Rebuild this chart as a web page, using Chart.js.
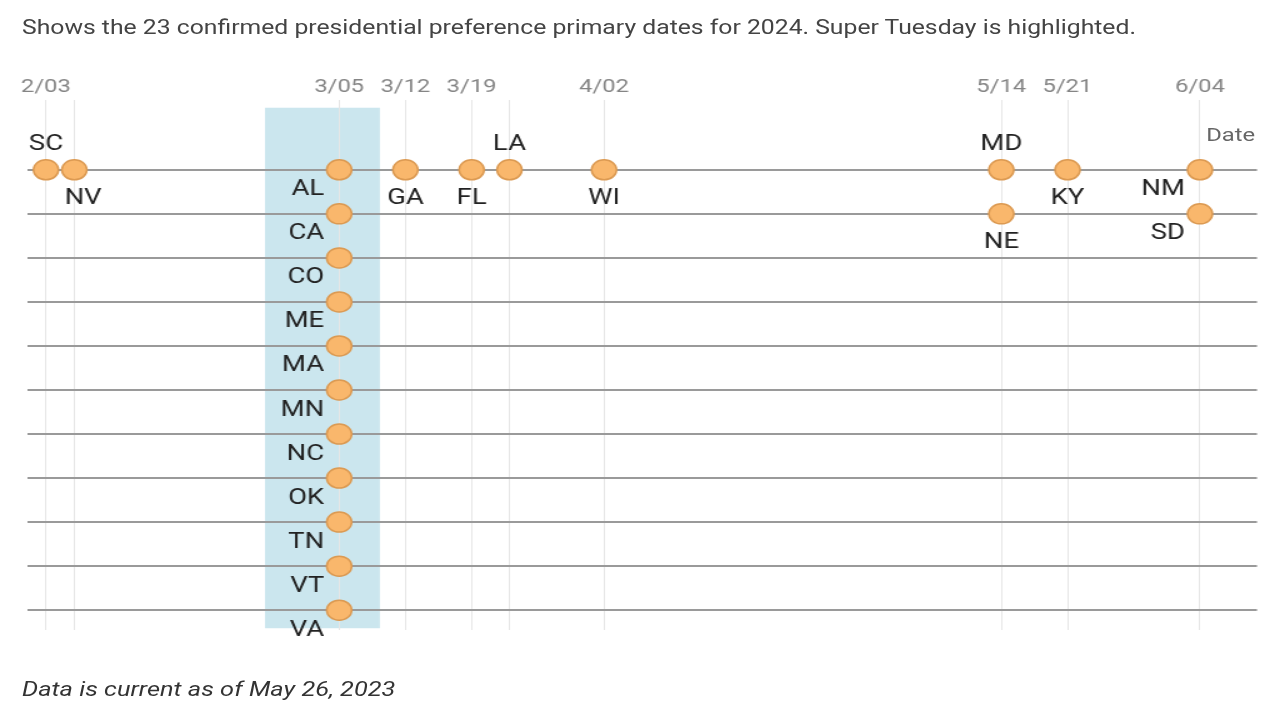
<!DOCTYPE html>
<html>
<head>
<meta charset="utf-8">
<script src="https://cdn.jsdelivr.net/npm/chart.js@4.4.0/dist/chart.umd.min.js"></script>
<style>
  html, body { margin: 0; padding: 0; background: #fff; overflow: hidden; }
  /* the reference is stretched sideways, so the whole page is drawn narrow and widened */
  #wrap { position: relative; width: 1023px; height: 720px; transform: scaleX(1.25); transform-origin: 0 0;
    font-family: Roboto, "Noto Sans", sans-serif; }
  #subtitle { position: absolute; left: 17.6px; top: 16px; font-size: 19.8px; color: #444; white-space: nowrap; }
  #note { position: absolute; left: 17.6px; top: 677px; font-size: 20.3px; font-style: italic; color: #333; white-space: nowrap; }
  #dateLabel { position: absolute; left: 965px; top: 123px; font-size: 19px; color: #666; }
  canvas { position: absolute; left: 0; top: 0; }
</style>
</head>
<body>
<div id="wrap">
  <canvas id="primaries" width="1023" height="720"></canvas>
  <div id="subtitle">Shows the 23 confirmed presidential preference primary dates for 2024. Super Tuesday is highlighted.</div>
  <div id="dateLabel">Date</div>
  <div id="note">Data is current as of May 26, 2023</div>
</div>
<script>
const states = ["SC", "NV", "AL", "CA", "CO", "ME", "MA", "MN", "NC", "OK", "TN", "VT", "VA",
  "GA", "FL", "LA", "WI", "MD", "NE", "KY", "NM", "SD"];
const primaryDates = ["2024-02-03", "2024-02-06",
  "2024-03-05", "2024-03-05", "2024-03-05", "2024-03-05", "2024-03-05", "2024-03-05",
  "2024-03-05", "2024-03-05", "2024-03-05", "2024-03-05", "2024-03-05",
  "2024-03-12", "2024-03-19", "2024-03-23", "2024-04-02",
  "2024-05-14", "2024-05-14", "2024-05-21", "2024-06-04", "2024-06-04"];
const rows = [0, 0, 0, 1, 2, 3, 4, 5, 6, 7, 8, 9, 10, 0, 0, 0, 0, 0, 1, 0, 0, 1];
const labelSide = ["above", "below", "left", "left", "left", "left", "left", "left", "left",
  "left", "left", "left", "left", "below", "below", "above", "below", "above", "below",
  "below", "left", "left"];
const tickLabels = ["2/03", "3/05", "3/12", "3/19", "4/02", "5/14", "5/21", "6/04"];
const superTuesday = "2024-03-05";

const startDay = Date.UTC(2024, 1, 3);
const dayOf = (iso) => {
  const p = iso.split("-").map(Number);
  return Math.round((Date.UTC(p[0], p[1] - 1, p[2]) - startDay) / 86400000);
};
const labelOf = (iso) => {
  const p = iso.split("-");
  return Number(p[1]) + "/" + p[2];
};

const points = states.map((s, i) => ({ x: dayOf(primaryDates[i]), y: rows[i] }));
const uniqueDays = [...new Set(primaryDates)].map(dayOf);
const rowValues = [...new Set(rows)];
const dayLabels = {};
primaryDates.forEach((d) => { dayLabels[dayOf(d)] = labelOf(d); });

// Super Tuesday band, drawn behind the grid
const bandPlugin = {
  id: "band",
  beforeDraw(chart) {
    const { ctx, scales } = chart;
    const d = dayOf(superTuesday);
    const x1 = scales.x.getPixelForValue(d - 7.85);
    const x2 = scales.x.getPixelForValue(d + 4.3);
    const y1 = scales.y.getPixelForValue(-1.41);
    const y2 = scales.y.getPixelForValue(10.41);
    ctx.save();
    ctx.fillStyle = "#cbe6ee";
    ctx.fillRect(x1, y1, x2 - x1, y2 - y1);
    ctx.restore();
  },
};

const labelPlugin = {
  id: "stateLabels",
  afterDatasetsDraw(chart) {
    const { ctx } = chart;
    const meta = chart.getDatasetMeta(0);
    ctx.save();
    ctx.font = "22px Roboto";
    ctx.fillStyle = "#222";
    ctx.textBaseline = "middle";
    meta.data.forEach((pt, i) => {
      const side = labelSide[i];
      if (side === "above") {
        ctx.textAlign = "center";
        ctx.fillText(states[i], pt.x, pt.y - 25);
      } else if (side === "below") {
        ctx.textAlign = "center";
        ctx.fillText(states[i], pt.x + (states[i] === "NV" ? 7 : 0), pt.y + 29);
      } else {
        ctx.textAlign = "right";
        ctx.fillText(states[i], pt.x - 12, pt.y + 20);
      }
    });
    ctx.restore();
  },
};

new Chart(document.getElementById("primaries"), {
  type: "scatter",
  data: {
    datasets: [
      {
        label: "Primaries",
        data: points,
        pointRadius: 10,
        pointHoverRadius: 10,
        pointBackgroundColor: "#f9b76c",
        pointBorderColor: "#dc9a52",
        pointBorderWidth: 1.5,
      },
    ],
  },
  options: {
    responsive: false,
    animation: false,
    layout: { padding: { left: 22.4, right: 17.4, top: 75, bottom: 90 } },
    plugins: { legend: { display: false }, tooltip: { enabled: false } },
    scales: {
      x: {
        type: "linear",
        position: "top",
        min: -1.9,
        max: 128.03,
        afterBuildTicks: (axis) => {
          axis.ticks = uniqueDays.map((v) => ({ value: v }));
        },
        ticks: {
          autoSkip: false,
          maxRotation: 0,
          padding: 1,
          color: "#858585",
          font: { family: "Roboto", size: 19 },
          callback: (v) => (tickLabels.includes(dayLabels[v]) ? dayLabels[v] : ""),
        },
        grid: { color: "#e6e6e6", lineWidth: 1, drawTicks: false },
        border: { display: false },
      },
      y: {
        type: "linear",
        reverse: true,
        min: -1.59,
        max: 10.45,
        afterBuildTicks: (axis) => {
          axis.ticks = rowValues.map((v) => ({ value: v }));
        },
        ticks: { display: false },
        grid: { color: "#9a9a9a", lineWidth: 2, drawTicks: false },
        border: { display: false },
      },
    },
  },
  plugins: [bandPlugin, labelPlugin],
});
</script>
</body>
</html>
